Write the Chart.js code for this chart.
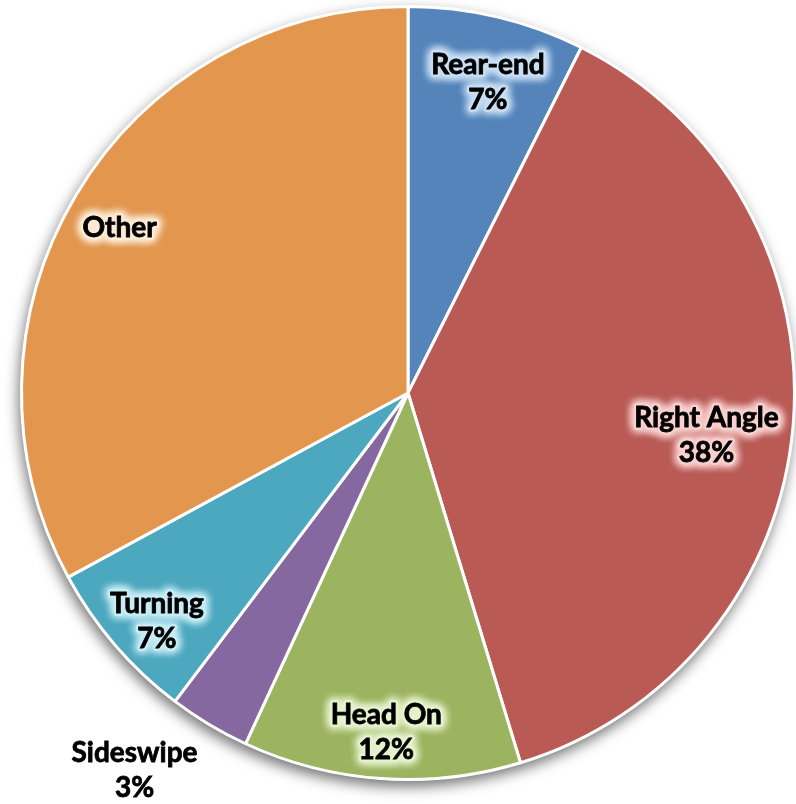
<!DOCTYPE html>
<html>
<head>
<meta charset="utf-8">
<script src="https://cdn.jsdelivr.net/npm/chart.js@4"></script>
<style>
html,body{margin:0;padding:0;background:#fff;}
#wrap{width:796px;height:804px;position:relative;}
</style>
</head>
<body>
<div id="wrap"><canvas id="c" width="796" height="804"></canvas></div>
<script>
const categories = ['Rear-end', 'Right Angle', 'Head On', 'Sideswipe', 'Turning', 'Other'];
const shares = [7.4, 37.9, 11.6, 3.4, 6.8, 32.9];
const showPercent = [true, true, true, true, true, false];
const sliceColors = ['#5484BA', '#BA5A55', '#9CB45F', '#8568A0', '#4CA8BF', '#E3964E'];
const glowColors = ['rgba(200,222,244,1)', 'rgba(248,208,206,1)', 'rgba(230,242,205,1)', 'rgba(255,255,255,0)', 'rgba(198,236,246,1)', 'rgba(255,234,212,1)'];
// label placement: radial factor of outer radius, angular nudge (deg)
const labelRadius = [0.83, 0.78, 0.88, 1.205, 0.878, 0.86];
const labelNudge = [1.1, 3.2, -0.3, 5, -1.6, -1];

const shadowPlugin = {
  id: 'pieShadow',
  beforeDatasetsDraw(chart) {
    const arc = chart.getDatasetMeta(0).data[0];
    if (!arc) return;
    const ctx = chart.ctx;
    ctx.save();
    ctx.shadowColor = 'rgba(0,0,0,0.55)';
    ctx.shadowBlur = 14;
    ctx.shadowOffsetX = -2;
    ctx.shadowOffsetY = 6;
    ctx.fillStyle = '#ffffff';
    ctx.beginPath();
    ctx.arc(arc.x, arc.y, arc.outerRadius + 1, 0, Math.PI * 2);
    ctx.fill();
    ctx.restore();
  }
};

const labelPlugin = {
  id: 'sliceLabels',
  afterDatasetsDraw(chart) {
    const ctx = chart.ctx;
    const meta = chart.getDatasetMeta(0);
    const total = shares.reduce((a, b) => a + b, 0);
    ctx.save();
    ctx.font = 'bold 28px Lato, "DejaVu Sans", sans-serif';
    ctx.textAlign = 'center';
    ctx.textBaseline = 'middle';
    meta.data.forEach((arc, i) => {
      const mid = (arc.startAngle + arc.endAngle) / 2 + labelNudge[i] * Math.PI / 180;
      const r = arc.outerRadius * labelRadius[i];
      const x = arc.x + Math.cos(mid) * r;
      const y = arc.y + Math.sin(mid) * r;
      const lines = [categories[i]];
      if (showPercent[i]) lines.push(Math.round(shares[i] / total * 100) + '%');
      const lh = 35;
      const y0 = y - (lines.length - 1) * lh / 2;
      lines.forEach((t, k) => {
        const yy = y0 + k * lh;
        ctx.save();
        ctx.shadowColor = glowColors[i];
        ctx.shadowBlur = 10;
        ctx.fillStyle = glowColors[i];
        ctx.strokeStyle = glowColors[i];
        ctx.lineWidth = 5;
        ctx.lineJoin = 'round';
        for (let n = 0; n < 4; n++) { ctx.strokeText(t, x, yy); }
        ctx.restore();
        ctx.fillStyle = '#000000';
        ctx.strokeStyle = '#000000';
        ctx.lineWidth = 0.8;
        ctx.fillText(t, x, yy);
        ctx.strokeText(t, x, yy);
      });
    });
    ctx.restore();
  }
};

new Chart(document.getElementById('c'), {
  type: 'pie',
  data: {
    labels: categories,
    datasets: [{
      data: shares,
      backgroundColor: sliceColors,
      borderColor: '#ffffff',
      borderWidth: 3
    }]
  },
  options: {
    responsive: false,
    animation: false,
    layout: { padding: { left: 20, right: 0, top: 5, bottom: 23 } },
    plugins: {
      legend: { display: false },
      tooltip: { enabled: false }
    }
  },
  plugins: [shadowPlugin, labelPlugin]
});
</script>
</body>
</html>
